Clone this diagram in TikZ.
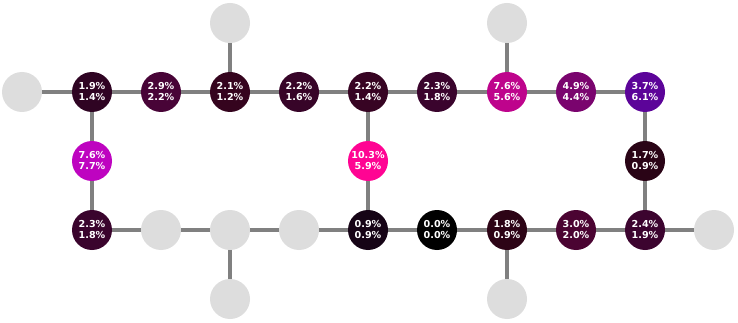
\documentclass[tikz,border=0pt]{standalone}
\usepackage{fontspec}
\setmainfont{DejaVu Sans}
\begin{document}
\begin{tikzpicture}[x=1pt,y=-1pt,
  edge/.style={draw=black!50,line width=4pt},
  cell/.style={circle,minimum size=40pt,inner sep=0pt,text=white,font=\fontsize{9.6}{11}\selectfont\bfseries,align=center},
  blank/.style={circle,minimum size=40pt,inner sep=0pt,fill=black!13.5}]
\useasboundingbox (0,0) rectangle (738,323);
\newcommand{\cellnode}[5]{%
  \pgfmathtruncatemacro{\rr}{min(255,round(25*#4))}%
  \pgfmathtruncatemacro{\bb}{min(255,round(25*#5))}%
  \pgfmathtruncatemacro{\gg}{(\rr+\bb)>0 ? 4 : 0}%
  \definecolor{c#1}{RGB}{\rr,\gg,\bb}%
  \node[cell,fill=c#1] (#1) at (#2,#3) {#4\%\\#5\%};}
% gray nodes
\node[blank] (g1) at (22,92) {};
\node[blank] (g2) at (230,23) {};
\node[blank] (g3) at (507,23) {};
\node[blank] (g4) at (161,230) {};
\node[blank] (g5) at (230,230) {};
\node[blank] (g6) at (299,230) {};
\node[blank] (g7) at (714,230) {};
\node[blank] (g8) at (230,299) {};
\node[blank] (g9) at (507,299) {};
% coloured nodes
\cellnode{a1}{92}{92}{1.9}{1.4}
\cellnode{a2}{161}{92}{2.9}{2.2}
\cellnode{a3}{230}{92}{2.1}{1.2}
\cellnode{a4}{299}{92}{2.2}{1.6}
\cellnode{a5}{368}{92}{2.2}{1.4}
\cellnode{a6}{437}{92}{2.3}{1.8}
\cellnode{a7}{507}{92}{7.6}{5.6}
\cellnode{a8}{576}{92}{4.9}{4.4}
\cellnode{a9}{645}{92}{3.7}{6.1}
\cellnode{b1}{92}{161}{7.6}{7.7}
\cellnode{b2}{368}{161}{10.3}{5.9}
\cellnode{b3}{645}{161}{1.7}{0.9}
\cellnode{c1}{92}{230}{2.3}{1.8}
\cellnode{c5}{368}{230}{0.9}{0.9}
\cellnode{c6}{437}{230}{0.0}{0.0}
\cellnode{c7}{507}{230}{1.8}{0.9}
\cellnode{c8}{576}{230}{3.0}{2.0}
\cellnode{c9}{645}{230}{2.4}{1.9}
% edges
\path[edge] (g1)--(a1) (a1)--(a2) (a2)--(a3) (a3)--(a4) (a4)--(a5) (a5)--(a6) (a6)--(a7) (a7)--(a8) (a8)--(a9)
  (g2)--(a3) (g3)--(a7)
  (a1)--(b1) (b1)--(c1) (a5)--(b2) (b2)--(c5) (a9)--(b3) (b3)--(c9)
  (c1)--(g4) (g4)--(g5) (g5)--(g6) (g6)--(c5) (c5)--(c6) (c6)--(c7) (c7)--(c8) (c8)--(c9) (c9)--(g7)
  (g5)--(g8) (c7)--(g9);
\end{tikzpicture}
\end{document}
